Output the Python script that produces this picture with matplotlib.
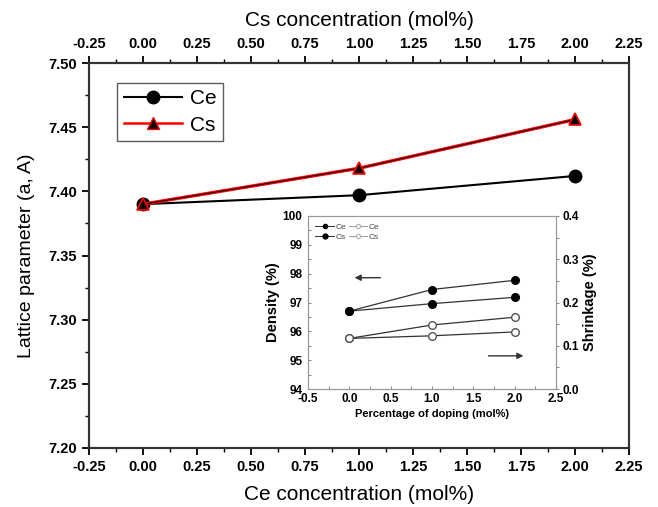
import matplotlib
matplotlib.use("Agg")
import matplotlib.pyplot as plt
from matplotlib.ticker import MultipleLocator, AutoMinorLocator
from matplotlib.lines import Line2D

plt.rcParams['font.family'] = ['Liberation Sans', 'DejaVu Sans']

# Main data
conc = [0.0, 1.0, 2.0]
lattice_ce = [7.390, 7.397, 7.412]
lattice_cs = [7.390, 7.418, 7.456]

# Inset data
doping = [0.0, 1.0, 2.0]
density_ce = [96.70, 96.96, 97.18]
density_cs = [96.70, 97.45, 97.77]
shrink_ce = [0.117, 0.123, 0.132]
shrink_cs = [0.117, 0.148, 0.166]

main_xticks = [-0.25, 0.0, 0.25, 0.5, 0.75, 1.0, 1.25, 1.5, 1.75, 2.0, 2.25]
main_yticks = [7.20, 7.25, 7.30, 7.35, 7.40, 7.45, 7.50]

fig = plt.figure(figsize=(6.58, 5.07), dpi=100)
ax = fig.add_axes([0.1353, 0.1164, 0.8207, 0.7593])

ax.plot(conc, lattice_ce, color='black', lw=1.5, marker='o', ms=9,
        mfc='black', mec='black', zorder=3)
ax.plot(conc, lattice_cs, color='red', lw=2.4, zorder=3)
ax.plot(conc, lattice_cs, color='black', lw=0.7, marker='^', ms=9,
        mfc='black', mec='red', mew=1.2, zorder=4)

ax.set_xlim(-0.25, 2.25)
ax.set_ylim(7.20, 7.50)
ax.set_xticks(main_xticks)
ax.set_yticks(main_yticks)
ax.xaxis.set_minor_locator(AutoMinorLocator(2))
ax.yaxis.set_minor_locator(AutoMinorLocator(2))
ax.set_xticklabels([f"{v:.2f}" for v in main_xticks], fontweight='bold', fontsize=10.5)
ax.set_yticklabels([f"{v:.2f}" for v in main_yticks], fontweight='bold', fontsize=10.5)
ax.tick_params(which='major', direction='out', length=5, width=1.3, right=False)
ax.tick_params(which='minor', direction='out', length=3, width=1.0, right=False)
for s in ax.spines.values():
    s.set_linewidth(1.5)
    s.set_color('#333333')
ax.set_xlabel('Ce concentration (mol%)', fontsize=15, labelpad=8)
ax.set_ylabel('Lattice parameter (a, A)', fontsize=14, labelpad=10)

top = ax.twiny()
top.set_xlim(-0.25, 2.25)
top.set_xticks(main_xticks)
top.xaxis.set_minor_locator(AutoMinorLocator(2))
top.set_xticklabels([f"{v:.2f}" for v in main_xticks], fontweight='bold', fontsize=10.5)
top.tick_params(which='major', direction='out', length=5, width=1.3)
top.tick_params(which='minor', direction='out', length=3, width=1.0)
top.set_xlabel('Cs concentration (mol%)', fontsize=15, labelpad=8)
for s in top.spines.values():
    s.set_linewidth(1.5)
    s.set_color('#333333')

h_ce = Line2D([], [], color='black', lw=1.5, marker='o', ms=9, mfc='black', mec='black')
h_cs = Line2D([], [], color='red', lw=1.8, marker='^', ms=8, mfc='black', mec='red')
leg = ax.legend([h_ce, h_cs], ['Ce', 'Cs'], loc='upper left',
                bbox_to_anchor=(0.033, 0.975), fontsize=15, frameon=True,
                fancybox=False, edgecolor='#333333', handlelength=2.8,
                borderpad=0.3, labelspacing=0.35, handletextpad=0.4)
leg.get_frame().set_linewidth(1.0)

# Inset
ins = fig.add_axes([0.468, 0.2327, 0.377, 0.3413])
ins.set_facecolor('white')
ins.plot(doping, density_ce, color='#333333', lw=0.9, marker='o', ms=5.5, mfc='black', mec='black')
ins.plot(doping, density_cs, color='#333333', lw=0.9, marker='o', ms=5.5, mfc='black', mec='black')
ins.set_xlim(-0.5, 2.5)
ins.set_ylim(94, 100)
ins.set_xticks([-0.5, 0.0, 0.5, 1.0, 1.5, 2.0, 2.5])
ins.set_xticklabels(['-0.5', '0.0', '0.5', '1.0', '1.5', '2.0', '2.5'], fontweight='bold', fontsize=8.5)
ins.set_yticks([94, 95, 96, 97, 98, 99, 100])
ins.set_yticklabels(['94', '95', '96', '97', '98', '99', '100'], fontweight='bold', fontsize=8.5)
ins.xaxis.set_minor_locator(AutoMinorLocator(2))
ins.yaxis.set_minor_locator(AutoMinorLocator(2))
ins.tick_params(which='both', direction='in', length=2.5, width=0.7, color='#888888')
ins.tick_params(axis='x', which='both', pad=3)
ins.tick_params(axis='y', which='both', pad=4)
ins.set_xlabel('Percentage of doping (mol%)', fontsize=8, fontweight='bold', labelpad=3)
ins.set_ylabel('Density (%)', fontsize=10.5, fontweight='bold', labelpad=2)
for s in ins.spines.values():
    s.set_linewidth(0.8)
    s.set_color('#999999')

ins2 = ins.twinx()
ins2.plot(doping, shrink_ce, color='#333333', lw=0.9, marker='o', ms=5.5, mfc='white', mec='#555555')
ins2.plot(doping, shrink_cs, color='#333333', lw=0.9, marker='o', ms=5.5, mfc='white', mec='#555555')
ins2.set_ylim(0.0, 0.4)
ins2.set_yticks([0.0, 0.1, 0.2, 0.3, 0.4])
ins2.set_yticklabels(['0.0', '0.1', '0.2', '0.3', '0.4'], fontweight='bold', fontsize=8.5)
ins2.yaxis.set_minor_locator(AutoMinorLocator(2))
ins2.tick_params(which='both', direction='out', length=2.5, width=0.7, color='#888888', pad=2)
ins2.set_ylabel('Shrinkage (%)', fontsize=10.5, fontweight='bold', labelpad=3)
for s in ins2.spines.values():
    s.set_linewidth(0.8)
    s.set_color('#999999')

ins.annotate('', xy=(0.03, 97.86), xytext=(0.41, 97.86),
             arrowprops=dict(arrowstyle='-|>', color='#333333', lw=1.0, mutation_scale=9))
ins.annotate('', xy=(2.14, 95.15), xytext=(1.65, 95.15),
             arrowprops=dict(arrowstyle='-|>', color='#333333', lw=1.0, mutation_scale=9))

hi = [Line2D([], [], color='#333333', lw=0.7, marker='o', ms=3, mfc='black', mec='black'),
      Line2D([], [], color='#333333', lw=0.7, marker='o', ms=3.5, mfc='black', mec='black'),
      Line2D([], [], color='#999999', lw=0.7, marker='o', ms=3, mfc='white', mec='#bbbbbb'),
      Line2D([], [], color='#999999', lw=0.7, marker='o', ms=3, mfc='white', mec='#bbbbbb')]
ileg = ins.legend(hi, ['Ce', 'Cs', 'Ce', 'Cs'], ncol=2, loc='upper left',
                  fontsize=6, frameon=False, handlelength=2.2, handletextpad=0.2,
                  columnspacing=0.3, labelspacing=0.2, borderaxespad=0.5)
for t in ileg.get_texts():
    t.set_color('#444444')

fig.savefig('out.png', dpi=100)
